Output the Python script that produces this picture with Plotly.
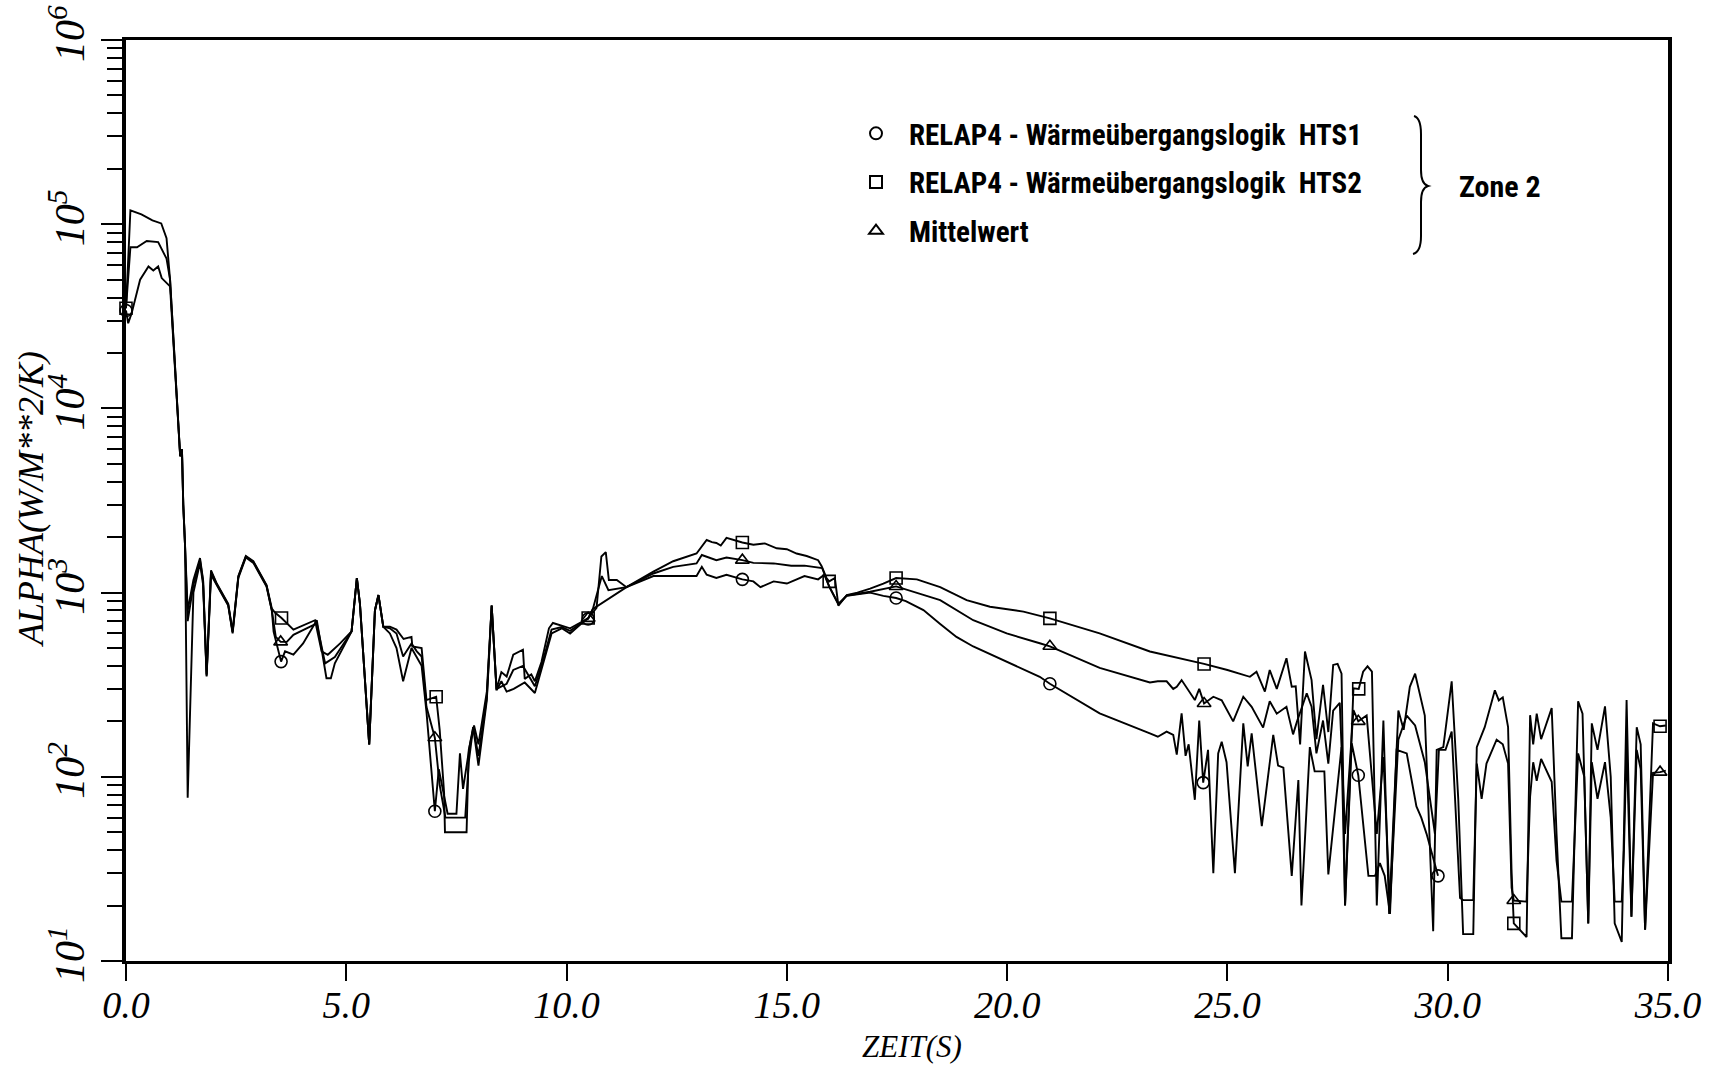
import plotly.graph_objects as go

# ---------------- data: heat transfer coefficient, zone 2 ----------------
# HTS1 (circle)
hts1_t = [0.0, 0.05, 0.13, 0.32, 0.51, 0.62, 0.73, 0.81, 1.0, 1.12, 1.23, 1.27, 1.30, 1.34, 1.40,
          1.53, 1.68, 1.75, 1.83, 1.93, 2.06, 2.32, 2.42, 2.55, 2.72, 2.89, 3.19, 3.31, 3.35, 3.52,
          3.61, 3.80, 4.02, 4.33, 4.55, 4.65, 4.74, 5.01, 5.12, 5.24, 5.31, 5.52, 5.65, 5.73, 5.84,
          5.99, 6.14, 6.29, 6.48, 6.71, 6.82, 7.01, 7.10, 7.30, 7.50, 7.58, 7.65, 7.81, 7.88, 8.00,
          8.19, 8.30, 8.41, 8.52, 8.64, 8.80, 9.05, 9.28, 9.43, 9.66, 9.89, 10.08, 10.42, 10.49,
          10.60, 10.98, 11.36, 11.97, 12.95, 13.07, 13.18, 13.40, 13.63, 13.99, 14.24, 14.40, 14.70,
          15.00, 15.40, 15.71, 15.85, 15.96, 16.17, 16.36, 16.89, 17.19, 17.48, 17.70, 18.10, 18.48,
          18.85, 19.23, 19.99, 20.74, 20.97, 22.10, 23.24, 23.42, 23.62, 23.77, 23.85, 23.96, 24.05,
          24.12, 24.26, 24.36, 24.45, 24.56, 24.68, 24.79, 24.87, 24.98, 25.17, 25.36, 25.46, 25.55,
          25.78, 26.04, 26.15, 26.27, 26.46, 26.61, 26.68, 26.87, 26.98, 27.20, 27.29, 27.45, 27.59,
          27.67, 27.82, 27.97, 28.20, 28.35, 28.46, 28.57, 28.69, 28.84, 29.07, 29.29, 29.40, 29.52,
          29.78]
hts1_v = [34000, 29000, 33000, 50000, 59000, 56000, 59000, 51000, 46000, 15000, 5500, 6000, 3000, 1800, 77,
          1000, 1450, 1100, 350, 1250, 1100, 850, 600, 1200, 1550, 1450, 1080, 800, 615, 422,
          480, 460, 530, 708, 343, 343, 413, 550, 616, 1200, 870, 150, 800, 970, 653,
          600, 500, 330, 500, 400, 225, 65, 110, 63, 63, 134, 86, 152, 186, 115,
          261, 850, 295, 330, 290, 300, 325, 285, 380, 600, 640, 600, 708, 720,
          815, 930, 1070, 1230, 1230, 1380, 1250, 1200, 1250, 1180, 1150, 1070, 1150,
          1120, 1230, 1180, 1250, 1080, 870, 960, 1000, 960, 935, 900, 804, 676,
          575, 510, 422, 349, 320, 221, 172, 165, 176, 169, 132, 221, 130,
          150, 75, 202, 93, 140, 30, 134, 155, 120, 30, 195, 114, 172,
          54, 169, 115, 112, 29, 96, 20, 145, 107, 107, 29.5, 70, 145,
          20, 152, 102, 29, 29, 34, 29, 18, 140, 134, 69, 60, 49,
          29]

# HTS2 (square)
hts2_t = [0.0, 0.1, 0.35, 0.6, 0.8, 0.92, 1.0, 1.12, 1.23, 1.27, 1.30, 1.34, 1.40,
          1.53, 1.68, 1.75, 1.83, 1.93, 2.06, 2.32, 2.42, 2.55, 2.72, 2.89, 3.19, 3.31, 3.38, 3.53,
          3.68, 3.80, 4.29, 4.44, 4.58, 4.86, 5.12, 5.24, 5.31, 5.52, 5.65, 5.73, 5.84, 5.99, 6.14,
          6.30, 6.48, 6.50, 6.71, 6.82, 7.04, 7.12, 7.22, 7.24, 7.73, 7.78, 7.90, 8.00, 8.19, 8.30,
          8.41, 8.52, 8.64, 8.79, 9.01, 9.05, 9.20, 9.28, 9.43, 9.60, 9.69, 9.89, 10.08, 10.42, 10.49,
          10.68, 10.79, 10.89, 10.96, 11.14, 11.36, 11.97, 12.42, 12.95, 13.18, 13.30, 13.40, 13.50,
          13.63, 13.99, 14.24, 14.50, 14.77, 15.00, 15.22, 15.45, 15.71, 15.79, 15.90, 15.96, 16.09,
          16.17, 16.36, 16.60, 16.89, 17.19, 17.48, 17.95, 18.48, 19.08, 19.61, 20.37, 20.97, 22.10,
          23.24, 24.47, 25.00, 25.51, 25.66, 25.85, 25.96, 26.12, 26.34, 26.46, 26.55, 26.65, 26.76,
          26.91, 27.02, 27.17, 27.29, 27.40, 27.50, 27.59, 27.67, 27.86, 27.98, 28.08, 28.18, 28.28,
          28.39, 28.54, 28.67, 28.88, 29.00, 29.14, 29.26, 29.48, 29.67, 29.75, 29.90, 30.09, 30.24,
          30.35, 30.58, 30.66, 30.84, 31.07, 31.16, 31.25, 31.37, 31.45, 31.50, 31.79, 31.87, 31.94,
          32.02, 32.12, 32.36, 32.47, 32.58, 32.82, 32.96, 33.06, 33.19, 33.27, 33.40, 33.57, 33.70,
          33.79, 33.95, 34.00, 34.06, 34.17, 34.29, 34.38, 34.48, 34.66, 34.82, 34.95]
hts2_v = [35000, 119000, 113000, 105000, 101000, 84000, 50000, 15000, 5500, 6000, 3000, 1800, 800,
          1170, 1540, 1170, 360, 1320, 1120, 870, 615, 1230, 1580, 1480, 1100, 820, 780, 728,
          676, 630, 708, 480, 460, 530, 616, 1200, 870, 150, 800, 970, 653, 653, 630,
          560, 575, 510, 500, 261, 272, 180, 82, 50, 50, 140, 190, 150, 290, 850,
          300, 370, 350, 460, 490, 340, 360, 330, 420, 640, 684, 660, 640, 710, 728,
          825, 1570, 1660, 1170, 1170, 1070, 1300, 1480, 1630, 1930, 1880, 1860, 1800,
          1980, 1870, 1820, 1850, 1740, 1720, 1630, 1580, 1500, 1390, 1200, 1150, 1200,
          850, 970, 1000, 1050, 1120, 1200, 1180, 1070, 910, 838, 789, 725, 600,
          479, 410, 380, 349, 372, 290, 380, 300, 440, 308, 310, 150, 479,
          335, 160, 316, 175, 405, 410, 363, 20, 302, 300, 372, 398, 372,
          20, 202, 18, 229, 180, 308, 363, 215, 14.5, 140, 145, 330, 75,
          14, 14, 145, 186, 295, 260, 270, 186, 30, 16, 13.5, 216, 150,
          220, 160, 236, 49, 13.3, 13.3, 257, 220, 16, 195, 140, 241, 100,
          16, 12.7, 50, 261, 17.4, 186, 150, 14.8, 195, 188, 190]

# Mittelwert (triangle)
mean_t = [0.0, 0.1, 0.25, 0.47, 0.73, 0.92, 1.0, 1.12, 1.23, 1.27, 1.30, 1.34, 1.40,
          1.53, 1.68, 1.75, 1.83, 1.93, 2.06, 2.32, 2.42, 2.55, 2.72, 2.89, 3.19, 3.31, 3.40, 3.51,
          3.65, 3.80, 4.33, 4.52, 4.74, 5.01, 5.12, 5.24, 5.31, 5.52, 5.65, 5.73, 5.84, 5.99, 6.14,
          6.29, 6.48, 6.60, 6.71, 6.82, 7.01, 7.12, 7.25, 7.70, 7.78, 7.88, 8.00, 8.19, 8.30, 8.41,
          8.64, 8.79, 9.01, 9.28, 9.43, 9.66, 9.89, 10.08, 10.42, 10.49, 10.60, 10.80, 10.95, 11.36,
          11.97, 12.42, 12.95, 13.07, 13.40, 13.63, 13.99, 14.24, 14.70, 15.10, 15.40, 15.80, 15.96,
          16.17, 16.36, 16.89, 17.48, 18.48, 19.23, 19.99, 20.74, 20.97, 22.10, 23.24, 23.42, 23.62,
          23.77, 23.85, 23.96, 24.10, 24.26, 24.36, 24.47, 24.68, 24.87, 25.13, 25.36, 25.55, 25.81,
          25.96, 26.12, 26.34, 26.49, 26.58, 26.80, 26.91, 27.02, 27.17, 27.29, 27.40, 27.55, 27.67,
          27.86, 27.97, 28.16, 28.39, 28.54, 28.69, 28.88, 29.07, 29.26, 29.48, 29.71, 29.80, 29.95,
          30.09, 30.28, 30.35, 30.58, 30.66, 30.77, 30.88, 31.11, 31.25, 31.37, 31.45, 31.50, 31.79,
          31.87, 31.94, 32.02, 32.12, 32.36, 32.47, 32.58, 32.82, 32.96, 33.10, 33.19, 33.27, 33.40,
          33.57, 33.70, 33.79, 33.95, 34.00, 34.06, 34.17, 34.29, 34.38, 34.48, 34.66, 34.82, 34.95]
mean_v = [35000, 75000, 75000, 81000, 80000, 65000, 50000, 15000, 5500, 6000, 3000, 1800, 700,
          1100, 1500, 1150, 355, 1300, 1110, 860, 610, 1220, 1570, 1470, 1090, 800, 575, 540,
          540, 590, 680, 413, 447, 560, 616, 1200, 870, 150, 800, 970, 653, 640, 600,
          450, 530, 480, 450, 240, 163, 90, 60, 60, 120, 186, 130, 270, 850, 300,
          320, 380, 400, 310, 400, 630, 650, 620, 710, 725, 820, 1230, 1030, 1070,
          1270, 1380, 1440, 1600, 1500, 1550, 1500, 1450, 1440, 1400, 1400, 1360, 1080,
          860, 965, 1010, 1080, 910, 708, 600, 531, 511, 390, 325, 330, 330,
          300, 308, 335, 300, 261, 300, 250, 272, 260, 200, 272, 240, 185,
          257, 220, 240, 170, 200, 284, 240, 134, 202, 118, 229, 252, 49,
          230, 200, 215, 49, 128, 20, 159, 215, 190, 120, 49, 140, 140,
          176, 22, 21.4, 21.4, 118, 76, 118, 159, 150, 118, 25, 21.3, 21,
          78, 120, 95, 125, 94, 35, 21, 21, 134, 100, 16, 120, 76,
          120, 60, 21, 21, 40, 150, 17.4, 140, 110, 14.8, 105, 106, 108]

# times at which the curve symbols are plotted
hts1_marks = [0.0, 3.52, 7.01, 10.49, 13.99, 17.48, 20.97, 24.45, 27.97, 29.78]
hts2_marks = [0.0, 3.53, 7.04, 10.49, 13.99, 15.96, 17.48, 20.97, 24.47, 27.98, 31.50, 34.82]
mean_marks = [3.51, 7.01, 10.49, 13.99, 17.48, 20.97, 24.47, 27.97, 31.50, 34.82]

series_names = ["RELAP4 - Wärmeübergangslogik\u00a0\u00a0HTS1",
                "RELAP4 - Wärmeübergangslogik\u00a0\u00a0HTS2",
                "Mittelwert"]

x_tickvals = [0, 5, 10, 15, 20, 25, 30, 35]
x_ticktext = ["0.0", "5.0", "10.0", "15.0", "20.0", "25.0", "30.0", "35.0"]
y_tickvals = [1e1, 1e2, 1e3, 1e4, 1e5, 1e6]
y_ticktext = ["10<sup>1</sup>", "10<sup>2</sup>", "10<sup>3</sup>",
              "10<sup>4</sup>", "10<sup>5</sup>", "10<sup>6</sup>"]
x_title = "ZEIT(S)"
y_title = "ALPHA(W/M**2/K)"
zone_label = "Zone 2"

# ---------------- figure ----------------
W, H = 1722, 1066
ML, MR, MT, MB = 126, 54, 40, 105
PW, PH = W - ML - MR, H - MT - MB


def px(x):
    return (x - ML) / PW


def py(y):
    return (H - MB - y) / PH


serif = "Liberation Serif, Times New Roman, serif"
narrow = "Roboto Condensed, DejaVu Sans Condensed, Liberation Sans Narrow, Roboto, sans-serif"

fig = go.Figure()

series = [
    (hts1_t, hts1_v, hts1_marks, "circle-open", 12),
    (hts2_t, hts2_v, hts2_marks, "square-open", 12),
    (mean_t, mean_v, mean_marks, "triangle-up-open", 12),
]

for (tt, vv, marks, sym, size), name in zip(series, series_names):
    fig.add_trace(go.Scatter(
        x=tt, y=vv, mode="lines",
        line=dict(color="black", width=1.9),
        showlegend=False, hoverinfo="skip"))
    mx = [t for t in tt if t in marks]
    my = [v for t, v in zip(tt, vv) if t in marks]
    fig.add_trace(go.Scatter(
        x=mx, y=my, mode="markers", name=name,
        marker=dict(symbol=sym, size=size, color="black",
                    line=dict(color="black", width=1.6)),
        cliponaxis=False, legendgroup=name))

fig.update_layout(
    width=W, height=H,
    margin=dict(l=ML, r=MR, t=MT, b=MB, autoexpand=False),
    paper_bgcolor="white", plot_bgcolor="white",
    showlegend=True,
    legend=dict(
        x=px(843), y=py(108), xanchor="left", yanchor="top",
        bgcolor="rgba(0,0,0,0)", borderwidth=0,
        font=dict(family=narrow, size=29, color="black", weight="bold"),
        tracegroupgap=8, itemsizing="constant", itemwidth=56),
    xaxis=dict(
        range=[0, 35], tickvals=x_tickvals, ticktext=x_ticktext,
        ticks="outside", ticklen=17, tickwidth=2, tickcolor="black",
        showline=True, linewidth=3, linecolor="black", mirror=True,
        showgrid=False, zeroline=False, ticklabelstandoff=-9, automargin=False,
        tickfont=dict(family=serif, size=38, color="black", style="italic")),
    yaxis=dict(
        type="log", range=[1, 6], tickvals=y_tickvals, ticktext=y_ticktext,
        tickangle=-90, automargin=False,
        ticks="outside", ticklen=21, tickwidth=2, tickcolor="black",
        minor=dict(ticks="outside", ticklen=15, tickwidth=2, tickcolor="black",
                   dtick="D1", showgrid=False),
        showline=True, linewidth=4, linecolor="black", mirror=True,
        showgrid=False, zeroline=False,
        tickfont=dict(family=serif, size=42, color="black", style="italic")),
)

# axis titles
fig.add_annotation(x=px(912), y=py(1046), xref="paper", yref="paper",
                   text=x_title, showarrow=False, xanchor="center", yanchor="middle",
                   font=dict(family=serif, size=31, color="black", style="italic"))
fig.add_annotation(x=px(31), y=py(499), xref="paper", yref="paper",
                   text=y_title, showarrow=False, textangle=-90,
                   xanchor="center", yanchor="middle",
                   font=dict(family=serif, size=36, color="black", style="italic"))

# brace grouping the three curves, and the zone label
x0 = 1421
brace = (f"M {px(x0 - 7)},{py(116)} "
         f"Q {px(x0)},{py(118)} {px(x0)},{py(134)} "
         f"L {px(x0)},{py(170)} "
         f"Q {px(x0)},{py(184)} {px(x0 + 7)},{py(186)} "
         f"Q {px(x0)},{py(188)} {px(x0)},{py(202)} "
         f"L {px(x0)},{py(236)} "
         f"Q {px(x0)},{py(252)} {px(x0 - 8)},{py(254)}")
fig.add_shape(type="path", path=brace, xref="paper", yref="paper",
              line=dict(color="black", width=2))
fig.add_annotation(x=px(1500), y=py(187), xref="paper", yref="paper",
                   text=zone_label, showarrow=False, xanchor="center", yanchor="middle",
                   font=dict(family=narrow, size=30, color="black", weight="bold"))

fig.write_html("out.html")
